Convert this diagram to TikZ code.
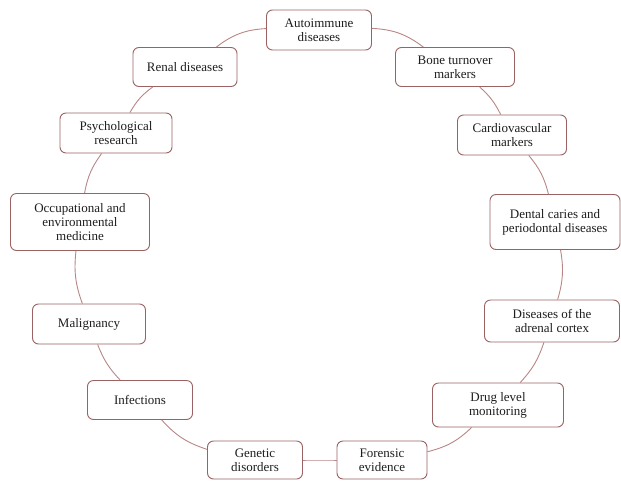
\documentclass[tikz,border=0pt]{standalone}
\usepackage{fontspec}
\setmainfont{Liberation Serif}
\usepackage{tikz}
\usetikzlibrary{positioning}
\definecolor{boxline}{HTML}{9A6262}
\definecolor{linkline}{HTML}{B88686}
\definecolor{inktext}{HTML}{1E1E1E}

\begin{document}
\begin{tikzpicture}[x=1pt, y=-1pt,
  topic/.style={rectangle, rounded corners=6pt, draw=boxline, fill=white, line width=0.9pt,
    minimum height=39pt, align=center, inner sep=2pt, text=inktext,
    font=\fontsize{13}{13.8}\selectfont},
  link/.style={draw=linkline, line width=0.9pt},
]
  \useasboundingbox (0,0) rectangle (621,480);
  % topics round the ring, clockwise from the top
  \node[topic, minimum width=105pt, minimum height=40pt] (auto) at (319,30) {Autoimmune\\diseases};
  \node[topic, minimum width=119pt] (bone) at (455,67) {Bone turnover\\markers};
  \node[topic, minimum width=109pt, minimum height=40pt] (cardio) at (512,135) {Cardiovascular\\markers};
  \node[topic, minimum width=130pt, minimum height=55pt] (dental) at (555,222) {Dental caries and\\periodontal diseases};
  \node[topic, minimum width=135pt, minimum height=42pt] (adrenal) at (552,321) {Diseases of the\\adrenal cortex};
  \node[topic, minimum width=131pt, minimum height=44pt] (drug) at (498,405) {Drug level\\monitoring};
  \node[topic, minimum width=90pt, minimum height=38pt] (forensic) at (382,460) {Forensic\\evidence};
  \node[topic, minimum width=95pt, minimum height=38pt] (genetic) at (255,460) {Genetic\\disorders};
  \node[topic, minimum width=105pt] (infect) at (140,400) {Infections};
  \node[topic, minimum width=113pt, minimum height=40pt] (malig) at (89,324) {Malignancy};
  \node[topic, minimum width=139pt, minimum height=57pt] (occup) at (80,222) {Occupational and\\environmental\\medicine};
  \node[topic, minimum width=112pt, minimum height=40pt] (psych) at (116,133) {Psychological\\research};
  \node[topic, minimum width=104pt] (renal) at (185,67) {Renal diseases};

  % ring connectors
  \foreach \from/\to/\bend in {auto/bone/17, bone/cardio/11, cardio/dental/13,
      dental/adrenal/13, adrenal/drug/12, drug/forensic/15, forensic/genetic/0,
      genetic/infect/15, infect/malig/11, malig/occup/13, occup/psych/13,
      psych/renal/12, renal/auto/17}
    \draw[link] (\from) to[bend left=\bend] (\to);
\end{tikzpicture}
\end{document}
